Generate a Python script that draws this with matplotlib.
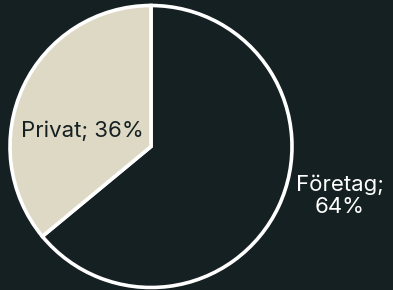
import matplotlib.pyplot as plt

# Data
labels = ['Företag', 'Privat']
shares = [64, 36]
colors = ['#152022', '#ddd9c4']
text_colors = ['#ffffff', '#152022']

BG = '#152022'

fig = plt.figure(figsize=(3.93, 2.90), dpi=100, facecolor=BG)
ax = fig.add_axes([0, 0, 1, 1])
ax.set_facecolor(BG)

# pie centered at pixel (151, 146.5) with radius 141
cx, cy, r = 151, 290 - 146.5, 141
ax.pie(shares, colors=colors, startangle=90, counterclock=False,
       center=(cx, cy), radius=r,
       wedgeprops=dict(edgecolor='white', linewidth=2.6))
ax.set_xlim(0, 393)
ax.set_ylim(0, 290)
ax.set_aspect('equal')
ax.axis('off')

font = ['Inter', 'DejaVu Sans']
ax.text(340, 290 - 196, f'{labels[0]};\n{shares[0]}%', ha='center', va='center',
        color=text_colors[0], fontsize=16, family=font, linespacing=1.1)
ax.text(82, 290 - 131, f'{labels[1]}; {shares[1]}%', ha='center', va='center',
        color=text_colors[1], fontsize=16, family=font)

fig.savefig('out.png', dpi=100, facecolor=BG)
